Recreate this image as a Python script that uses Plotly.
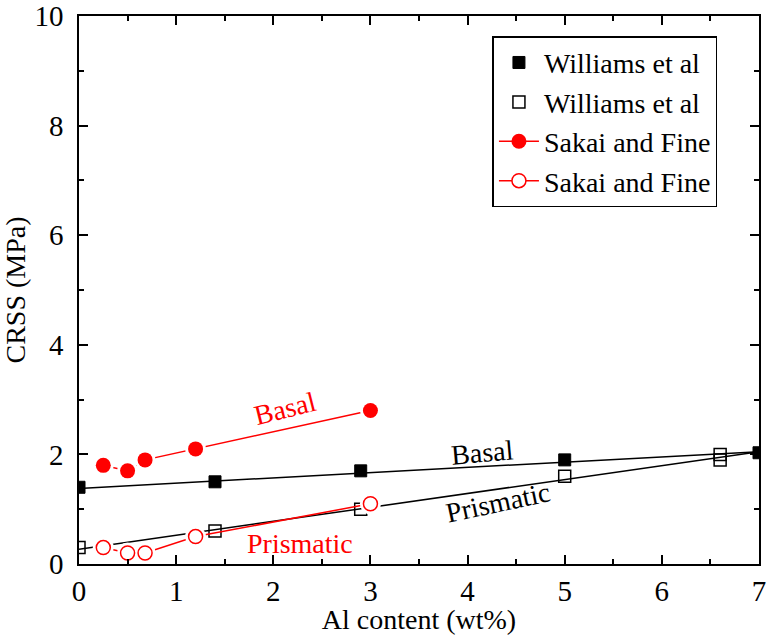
import plotly.graph_objects as go

# Williams et al (basal, filled squares)
w_basal_x = [0, 1.4, 2.9, 5.0, 7.0]
w_basal_y = [1.4, 1.5, 1.7, 1.9, 2.03]
# Williams et al (prismatic, open squares)
w_prism_x = [0, 1.4, 2.9, 5.0, 6.6, 6.6]
w_prism_y = [0.3, 0.6, 1.0, 1.6, 1.9, 2.0]
# Linear fits (black lines)
fit_basal_x = [0, 7]
fit_basal_y = [1.38, 2.05]
fit_prism_x = [0, 7]
fit_prism_y = [0.27, 2.05]
# Sakai and Fine (basal, filled circles)
s_basal_x = [0.25, 0.5, 0.68, 1.2, 3.0]
s_basal_y = [1.8, 1.7, 1.9, 2.1, 2.8]
# Sakai and Fine (prismatic, open circles)
s_prism_x = [0.25, 0.5, 0.68, 1.2, 3.0]
s_prism_y = [0.3, 0.2, 0.2, 0.5, 1.1]

RED = "#ff0000"
FONT = "Liberation Serif"

fig = go.Figure()

# fit lines
fig.add_trace(go.Scatter(x=fit_basal_x, y=fit_basal_y, mode="lines",
                         line=dict(color="black", width=1.5), showlegend=False, hoverinfo="skip"))
fig.add_trace(go.Scatter(x=fit_prism_x, y=fit_prism_y, mode="lines",
                         line=dict(color="black", width=1.5), showlegend=False, hoverinfo="skip"))

# Williams markers
fig.add_trace(go.Scatter(x=w_basal_x, y=w_basal_y, mode="markers", name="Williams et al",
                         marker=dict(symbol="square", size=12, color="black",
                                     line=dict(color="black", width=1))))
fig.add_trace(go.Scatter(x=w_prism_x, y=w_prism_y, mode="markers", name="Williams et al",
                         marker=dict(symbol="square-open", size=12, color="black",
                                     line=dict(color="black", width=1.5))))

# Sakai lines with legend
fig.add_trace(go.Scatter(x=s_basal_x, y=s_basal_y, mode="lines+markers", name="Sakai and Fine",
                         line=dict(color=RED, width=1.5),
                         marker=dict(symbol="circle", size=15, color=RED)))
fig.add_trace(go.Scatter(x=s_prism_x, y=s_prism_y, mode="lines+markers", name="Sakai and Fine",
                         line=dict(color=RED, width=1.5),
                         marker=dict(symbol="circle", size=14, color="white",
                                     line=dict(color=RED, width=1.5))))

# white halos to create gaps around circles
for xs, ys in [(s_basal_x, s_basal_y), (s_prism_x, s_prism_y)]:
    fig.add_trace(go.Scatter(x=xs, y=ys, mode="markers", showlegend=False, hoverinfo="skip",
                             marker=dict(symbol="circle", size=21, color="white")))

fig.add_trace(go.Scatter(x=s_basal_x, y=s_basal_y, mode="markers", showlegend=False,
                         marker=dict(symbol="circle", size=15, color=RED)))
fig.add_trace(go.Scatter(x=s_prism_x, y=s_prism_y, mode="markers", showlegend=False,
                         marker=dict(symbol="circle", size=14, color="white",
                                     line=dict(color=RED, width=1.5))))

annos = [
    dict(x=2.12, y=2.83, text="Basal", color=RED, angle=-14),
    dict(x=2.27, y=0.38, text="Prismatic", color=RED, angle=0),
    dict(x=4.15, y=2.03, text="Basal", color="black", angle=-5),
    dict(x=4.31, y=1.13, text="Prismatic", color="black", angle=-12),
]
for a in annos:
    fig.add_annotation(x=a["x"], y=a["y"], text=a["text"], showarrow=False,
                       textangle=a["angle"], font=dict(family=FONT, size=28, color=a["color"]))

axis_common = dict(showline=True, linecolor="black", linewidth=1.5, mirror="allticks",
                   ticks="inside", ticklen=9, tickwidth=1.5, tickcolor="black",
                   showgrid=False, zeroline=False, automargin=False,
                   ticklabeloverflow="allow",
                   tickfont=dict(family=FONT, size=29, color="black"))

fig.update_xaxes(range=[0, 7], dtick=1,
                 minor=dict(dtick=0.5, ticks="inside", ticklen=5, tickwidth=1.5, tickcolor="black"),
                 title=dict(text="Al content (wt%)", font=dict(family=FONT, size=28, color="black"),
                            standoff=0),
                 **axis_common)
fig.update_yaxes(range=[0, 10], dtick=2,
                 minor=dict(dtick=1, ticks="inside", ticklen=5, tickwidth=1.5, tickcolor="black"),
                 title=dict(text="CRSS (MPa)", font=dict(family=FONT, size=28, color="black"),
                            standoff=4),
                 ticklabelstandoff=8,
                 **axis_common)

fig.update_layout(
    width=767, height=635,
    margin=dict(l=79, r=8, t=16, b=71, autoexpand=False),
    plot_bgcolor="white", paper_bgcolor="white",
    legend=dict(x=0.608, y=0.963, xanchor="left", yanchor="top",
                bordercolor="black", borderwidth=1.5, bgcolor="white",
                font=dict(family=FONT, size=28, color="black"),
                tracegroupgap=0, itemwidth=40),
)

post = (
    "document.body.style.margin='0';"
    "var gd=document.getElementById('{plot_id}');"
    "setTimeout(function(){Plotly.relayout(gd,{});},50);"
)
fig.write_html("out.html", post_script=post, config={"displayModeBar": False})
